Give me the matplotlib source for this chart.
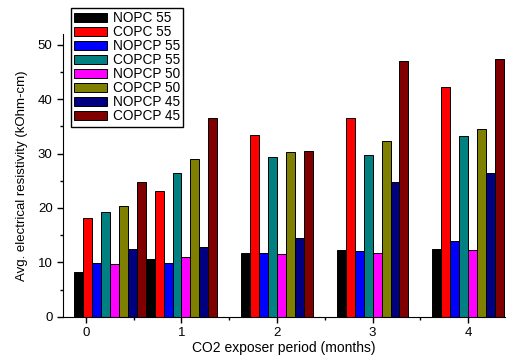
import numpy as np
import matplotlib.pyplot as plt
from matplotlib.ticker import MultipleLocator

plt.rcParams['font.family'] = ['Liberation Sans', 'DejaVu Sans']

# data
months = [0, 1, 2, 3, 4]
series = ['NOPC 55', 'COPC 55', 'NOPCP 55', 'COPCP 55',
          'NOPCP 50', 'COPCP 50', 'NOPCP 45', 'COPCP 45']
nopc55 = [8.3, 10.6, 11.7, 12.3, 12.4]
copc55 = [18.2, 23.1, 33.4, 36.5, 42.3]
nopcp55 = [9.8, 9.9, 11.8, 12.1, 13.9]
copcp55 = [19.2, 26.4, 29.3, 29.7, 33.3]
nopcp50 = [9.7, 10.9, 11.5, 11.8, 12.3]
copcp50 = [20.4, 29.0, 30.2, 32.3, 34.5]
nopcp45 = [12.5, 12.8, 14.4, 24.7, 26.5]
copcp45 = [24.8, 36.5, 30.4, 47.0, 47.4]
values = [nopc55, copc55, nopcp55, copcp55, nopcp50, copcp50, nopcp45, copcp45]
colors = ['#000000', '#ff0000', '#0000ff', '#008080',
          '#ff00ff', '#808000', '#000080', '#800000']

fig = plt.figure(figsize=(5.08, 3.6), dpi=100)
ax = fig.add_axes([0.124, 0.12, 0.870, 0.786])

# first group sits a bit to the right in the original
centers = np.array(months, dtype=float) + np.array([0.25, 0, 0, 0, 0])
w = 0.75 / len(series)
for i, (name, vals, c) in enumerate(zip(series, values, colors)):
    ax.bar(centers + (i - 3.5) * w, vals, width=w, color=c,
           edgecolor='black', linewidth=0.7, label=name)

ax.set_xlim(-0.24, 4.385)
ax.set_ylim(0, 52)
ax.set_xticks(months)
ax.xaxis.set_minor_locator(MultipleLocator(0.5))
ax.yaxis.set_major_locator(MultipleLocator(10))
ax.yaxis.set_minor_locator(MultipleLocator(5))
ax.tick_params(which='major', direction='out', length=4, width=1, labelsize=9.5)
ax.tick_params(which='minor', direction='out', length=2.5, width=1)
ax.spines['top'].set_visible(False)
ax.spines['right'].set_visible(False)

ax.set_xlabel('CO2 exposer period (months)', fontsize=10, labelpad=1)
ax.set_ylabel('Avg. electrical resistivity (kOhm-cm)', fontsize=9.5, labelpad=7)

leg = ax.legend(loc='upper left', bbox_to_anchor=(71 / 508, 1 - 8 / 360),
                bbox_transform=fig.transFigure, fontsize=9.8, frameon=True,
                fancybox=False, edgecolor='black', framealpha=1,
                handlelength=2.4, handleheight=0.6, handletextpad=0.4,
                labelspacing=0.0, borderpad=0.25, borderaxespad=0)
leg.get_frame().set_linewidth(1)

fig.savefig('out.png', dpi=100)
